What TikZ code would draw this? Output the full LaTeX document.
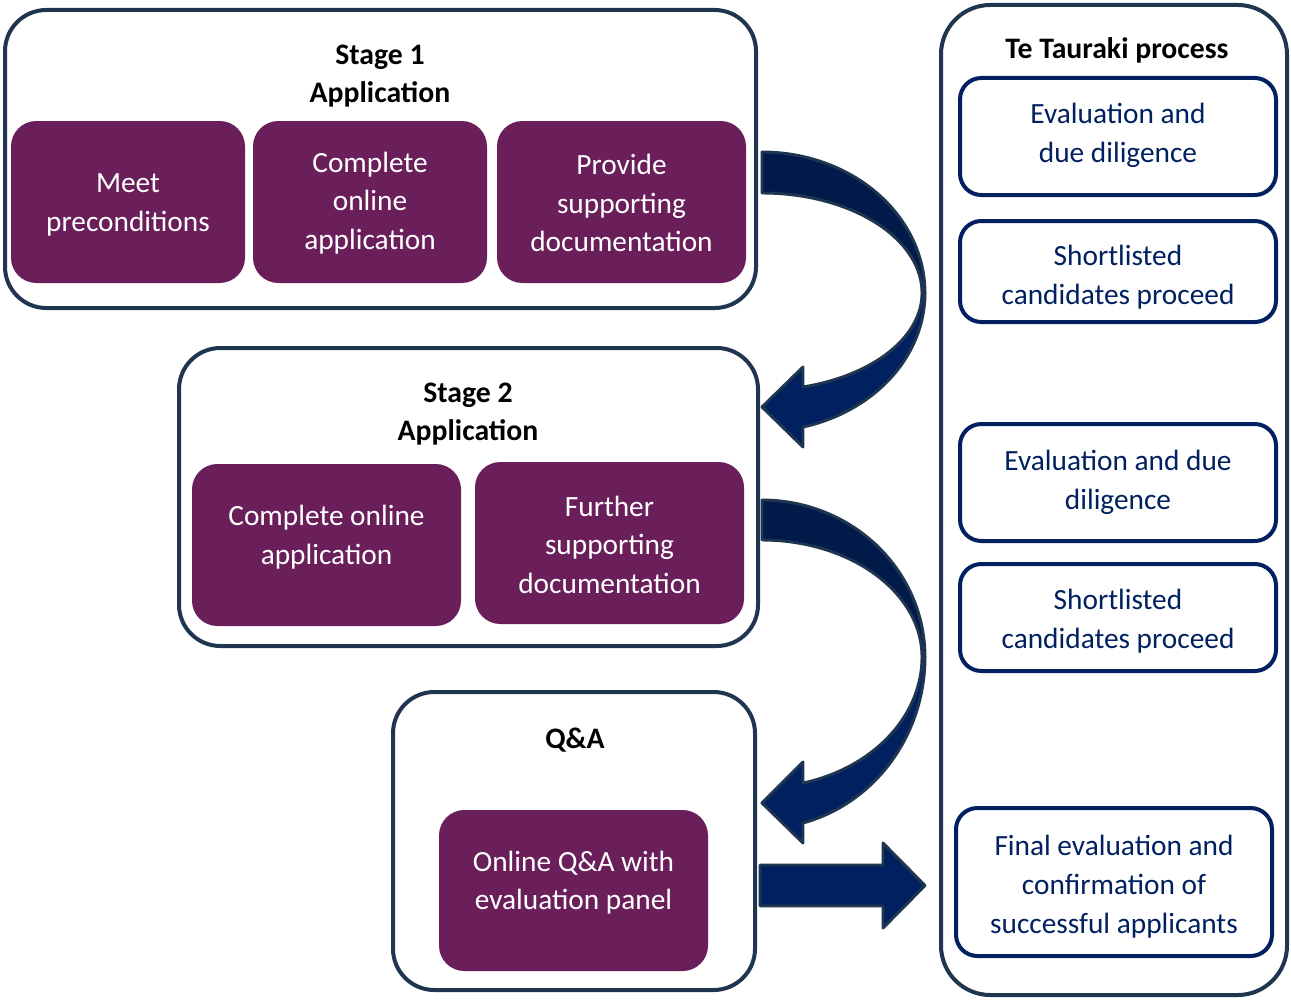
\documentclass[tikz,border=0pt]{standalone}
\usepackage{fontspec}
\setmainfont{Carlito}
\definecolor{edge}{HTML}{1F3550}
\definecolor{plum}{HTML}{6A1E5A}
\definecolor{navy}{HTML}{002060}
\definecolor{navyd}{HTML}{001A4A}
\tikzset{
  outerbox/.style={draw=edge, line width=3pt, rounded corners=31pt, fill=white},
  panelbox/.style={draw=edge, line width=3pt, rounded corners=37pt, fill=white},
  plumbox/.style={fill=plum, rounded corners=19pt},
  evalbox/.style={draw=navy, line width=3pt, rounded corners=16pt, fill=white},
  txt/.style={font=\fontsize{22pt}{29pt}\selectfont, align=center, inner sep=0pt, yshift=-2pt},
  wtxt/.style={txt, text=white},
  ntxt/.style={txt, text=navy},
  btxt/.style={txt, font=\fontsize{22.3pt}{29pt}\selectfont\bfseries, text=black},
  arrowpart/.style={draw=edge, line width=2.2pt, line join=round}
}
\begin{document}
\begin{tikzpicture}[x=0.75pt,y=-0.75pt]
\useasboundingbox (0,0) rectangle (1291,999);
% outer containers
\node[outerbox, minimum width=751*0.75pt, minimum height=298*0.75pt] (s1) at (380.5,159) {};
\node[outerbox, minimum width=579*0.75pt, minimum height=298*0.75pt] (s2) at (468.5,497) {};
\node[outerbox, minimum width=362*0.75pt, minimum height=298*0.75pt] (s3) at (574,841) {};
\node[panelbox, minimum width=346*0.75pt, minimum height=990*0.75pt] (tp) at (1114,500) {};
% titles
\node[btxt] (t1) at (380,73.5) {Stage 1\\Application};
\node[btxt] (t2) at (468,411.5) {Stage 2\\Application};
\node[btxt] (t3) at (575,737) {Q\&A};
\node[btxt] (t4) at (1117,48) {Te Tauraki process};
% stage 1 boxes
\node[plumbox, minimum width=234*0.75pt, minimum height=162*0.75pt] (m1) at (128,202) {};
\node[wtxt] at (128,202) {Meet\\preconditions};
\node[plumbox, minimum width=234*0.75pt, minimum height=162*0.75pt] (m2) at (370,202) {};
\node[wtxt] at (370,200.5) {Complete\\online\\application};
\node[plumbox, minimum width=249*0.75pt, minimum height=162*0.75pt] (m3) at (621.5,202) {};
\node[wtxt] at (621.5,200.5) {Provide\\supporting\\documentation};
% stage 2 boxes
\node[plumbox, minimum width=269*0.75pt, minimum height=162*0.75pt] (c1) at (326.5,545) {};
\node[wtxt] at (326.5,534.5) {Complete online\\application};
\node[plumbox, minimum width=269*0.75pt, minimum height=162*0.75pt] (c2) at (609.5,543) {};
\node[wtxt] at (609.5,542) {Further\\supporting\\documentation};
% Q&A box
\node[plumbox, minimum width=269*0.75pt, minimum height=161*0.75pt] (q1) at (573.5,890.5) {};
\node[wtxt] at (573.5,880) {Online Q\&A with\\evaluation panel};
% right boxes
\node[evalbox, minimum width=316*0.75pt, minimum height=117*0.75pt] (r1) at (1118,136.5) {};
\node[ntxt] at (1118,133) {Evaluation and\\due diligence};
\node[evalbox, minimum width=316*0.75pt, minimum height=101*0.75pt] (r2) at (1118,271.5) {};
\node[ntxt] at (1118,274.5) {Shortlisted\\candidates proceed};
\node[evalbox, minimum width=316*0.75pt, minimum height=117*0.75pt] (r3) at (1118,482.5) {};
\node[ntxt] at (1118,479.5) {Evaluation and due\\diligence};
\node[evalbox, minimum width=316*0.75pt, minimum height=107*0.75pt] (r4) at (1118,617.5) {};
\node[ntxt] at (1118,618.5) {Shortlisted\\candidates proceed};
\node[evalbox, minimum width=316*0.75pt, minimum height=148*0.75pt] (r5) at (1114,882) {};
\node[ntxt] at (1114,884) {Final evaluation and\\confirmation of\\successful applicants};
% curved arrow 1
\path[arrowpart, fill=navyd] plot[domain=-90:0,samples=50] ({762+163*cos(\x)},{293+141*sin(\x)})
  -- plot[domain=0:-90,samples=50] ({762+160*cos(\x)},{293+100*sin(\x)}) -- cycle;
\path[arrowpart, fill=navy] plot[domain=0:75.43,samples=50] ({762+163*cos(\x)},{293+138.5*sin(\x)})
  -- (803,447) -- (762,407) -- (803,367)
  -- plot[domain=75.15:0,samples=50] ({762+160*cos(\x)},{293+97.2*sin(\x)}) -- cycle;
% curved arrow 2
\path[arrowpart, fill=navyd] plot[domain=-90:0,samples=50] ({762+163*cos(\x)},{657+157*sin(\x)})
  -- plot[domain=0:-90,samples=50] ({762+160*cos(\x)},{657+117*sin(\x)}) -- cycle;
\path[arrowpart, fill=navy] plot[domain=0:75.43,samples=50] ({762+163*cos(\x)},{657+171.5*sin(\x)})
  -- (803,843) -- (762,803) -- (803,762)
  -- plot[domain=75.15:0,samples=50] ({762+160*cos(\x)},{657+130.4*sin(\x)}) -- cycle;
% straight arrow
\path[arrowpart, fill=navy] (760,865) -- (883,865) -- (883,843) -- (925,885.5) -- (883,928) -- (883,906) -- (760,906) -- cycle;
\end{tikzpicture}
\end{document}
